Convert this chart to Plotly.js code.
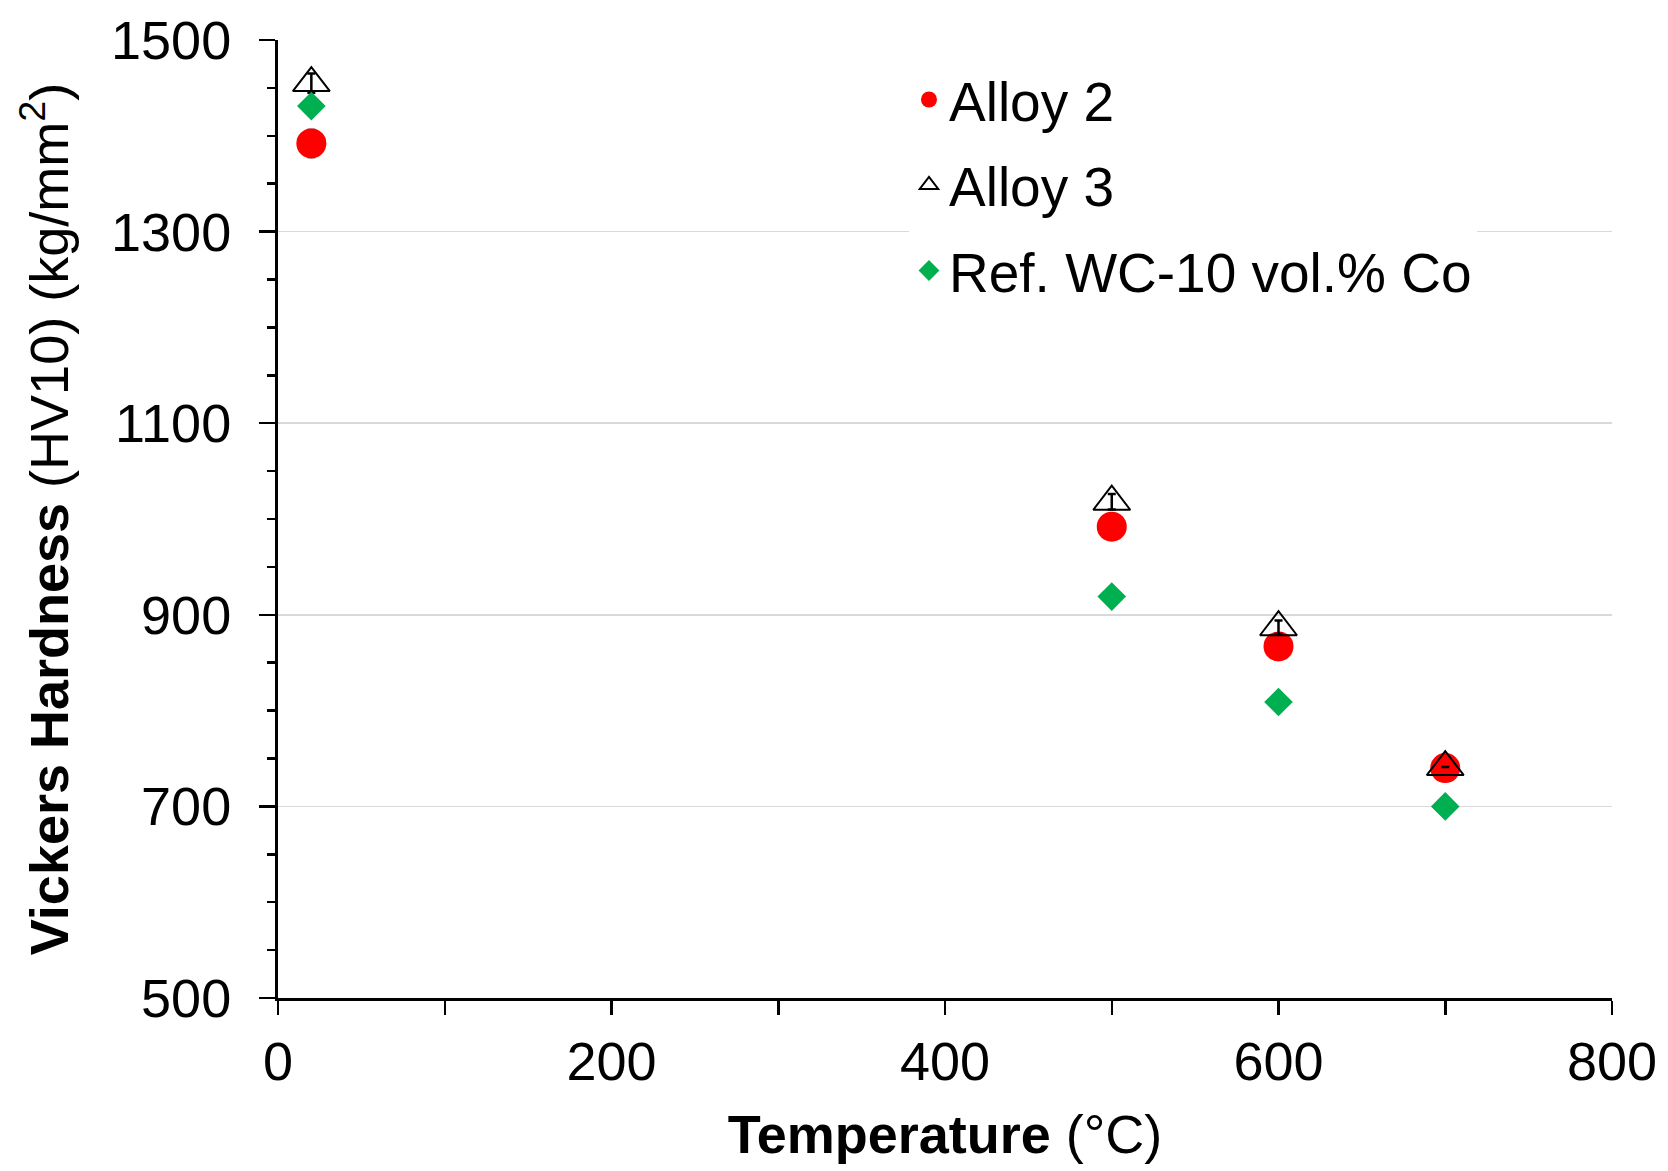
<!DOCTYPE html>
<html>
<head>
<meta charset="utf-8">
<script src="https://cdn.plot.ly/plotly-3.0.1.min.js"></script>
<style>html,body{margin:0;padding:0;background:#fff;}#chart{width:1668px;height:1171px;}</style>
</head>
<body>
<div id="chart"></div>
<script>
// Data
const temperature = [20, 500, 600, 700];
const alloy2 = [1392, 992, 867, 740];
const alloy2Err = [14, 8, 6, 4];
const alloy3 = [1455, 1018, 887, 741];
const alloy3Err = [10, 8, 7, 0];
const refWC = [1431, 919, 809, 700];
const seriesNames = ['Alloy 2', 'Alloy 3', 'Ref. WC-10 vol.% Co'];
const xTicks = [0, 200, 400, 600, 800];
const yTicks = [500, 700, 900, 1100, 1300, 1500];

const FONT = 'Liberation Sans, Arial, sans-serif';

const traces = [
  {
    x: temperature, y: alloy2, name: seriesNames[0], type: 'scatter', mode: 'markers',
    legendgroup: 'a2',
    marker: {symbol: 'circle', size: 30, color: '#ff0000'},
    error_y: {type: 'data', array: alloy2Err, visible: true, color: '#000', thickness: 2.5, width: 4}
  },
  {
    x: temperature, y: alloy3, name: seriesNames[1], type: 'scatter', mode: 'markers',
    legendgroup: 'a3',
    marker: {symbol: 'triangle-up-open', size: 32, color: '#000', line: {color: '#000', width: 2}},
    error_y: {type: 'data', array: alloy3Err, visible: true, color: '#000', thickness: 2.5, width: 4}
  },
  {
    x: temperature, y: refWC, name: seriesNames[2], type: 'scatter', mode: 'markers',
    legendgroup: 'ref',
    marker: {symbol: 'diamond', size: 22, color: '#00b050'}
  }
];

const layout = {
  width: 1668, height: 1171,
  paper_bgcolor: '#fff', plot_bgcolor: '#fff',
  margin: {l: 278, r: 56, t: 40, b: 173},
  font: {family: FONT, color: '#000', size: 52},
  showlegend: true,
  legend: {
    x: 0.473, y: 0.982, xanchor: 'left', yanchor: 'top',
    bgcolor: '#fff', borderwidth: 0,
    font: {family: FONT, size: 55, color: '#000'},
    traceorder: 'grouped', tracegroupgap: 11
  },
  xaxis: {
    range: [0, 800], tickvals: xTicks, ticktext: xTicks.map(String),
    ticks: 'outside', ticklen: 14, tickwidth: 2.5, tickcolor: '#000',
    minor: {ticks: 'outside', dtick: 100, tick0: 0, ticklen: 14, tickwidth: 2.5, tickcolor: '#000', showgrid: false},
    showline: true, linecolor: '#000', linewidth: 3,
    showgrid: false, zeroline: false,
    tickfont: {family: FONT, size: 54, color: '#000'},
    ticklabelstandoff: 0,
    title: {text: '<b>Temperature</b> (°C)', font: {family: FONT, size: 54, color: '#000'}, standoff: 26}
  },
  yaxis: {
    range: [500, 1500], tickvals: yTicks, ticktext: yTicks.map(String),
    ticks: 'outside', ticklen: 16, tickwidth: 2.5, tickcolor: '#000',
    minor: {ticks: 'outside', dtick: 50, tick0: 500, ticklen: 8, tickwidth: 2.5, tickcolor: '#000', showgrid: false},
    showline: true, linecolor: '#000', linewidth: 3,
    showgrid: true, gridcolor: '#d9d9d9', gridwidth: 1.5, zeroline: false,
    tickfont: {family: FONT, size: 54, color: '#000'},
    ticklabelstandoff: 17,
    title: {text: '<b>Vickers Hardness</b> (HV10) (kg/mm<sup>2</sup>)', font: {family: FONT, size: 54, color: '#000'}, standoff: 26}
  }
};

Plotly.newPlot('chart', traces, layout, {displayModeBar: false, staticPlot: true});
</script>
</body>
</html>
